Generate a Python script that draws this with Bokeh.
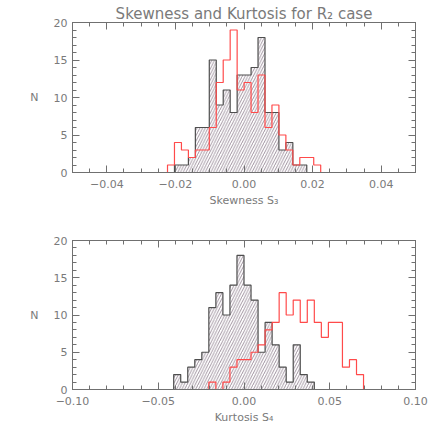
import numpy as np
from bokeh.plotting import figure
from bokeh.models import FixedTicker, LinearAxis, CustomJSTickFormatter, Range1d
from bokeh.layouts import column
from bokeh.embed import file_html
from bokeh.resources import INLINE

# ---------------- data ----------------
title_text = "Skewness and Kurtosis for R\u2082 case"
skew_label = "Skewness S\u2083"
kurt_label = "Kurtosis S\u2084"
y_label = "N"

# skewness histograms (left edge of first bin, bin width, counts)
skew_edge0 = -0.0223
skew_binw = 0.00203
skew_black = [0, 1, 1, 2, 6, 6, 15, 9, 11, 8, 13, 13, 14, 18, 8, 8, 3, 4, 1, 1, 0, 0]
skew_red = [1, 4, 3, 2, 3, 3, 6, 12, 15, 19, 11, 12, 8, 13, 6, 9, 5, 3, 1, 2, 2, 1]
skew_xrange = (-0.05, 0.05)
skew_xticks = [-0.04, -0.02, 0.0, 0.02, 0.04]
skew_xminor = [round(-0.05 + 0.005 * i, 4) for i in range(21)]

# kurtosis histograms
kurt_edge0 = -0.041
kurt_binw = 0.0041
kurt_black = [2, 1, 3, 4, 5, 11, 13, 10, 14, 18, 14, 12, 5, 9, 6, 3, 1, 6, 2, 1, 0, 0, 0, 0, 0, 0, 0]
kurt_red = [0, 0, 0, 0, 0, 1, 0, 1, 3, 4, 4, 5, 6, 8, 9, 13, 10, 12, 9, 12, 9, 7, 9, 9, 3, 4, 2]
kurt_xrange = (-0.10, 0.10)
kurt_xticks = [-0.10, -0.05, 0.0, 0.05, 0.10]
kurt_xminor = [round(-0.10 + 0.01 * i, 4) for i in range(21)]

y_range = (0, 20)
y_ticks = [0, 5, 10, 15, 20]
y_minor = list(range(0, 21))

# ---------------- style ----------------
AXIS_COL = "#707070"
TEXT_COL = "#7a7a7a"
BLACK_COL = "#4e4e4e"
HATCH_COL = "#8a7a8a"
RED_COL = "#ff4a4a"
FONT = "DejaVu Sans"

fmt = CustomJSTickFormatter(code="""
    if (Math.abs(tick) < 1e-12) { return "0.00"; }
    return (tick < 0 ? "\\u2212" : "") + Math.abs(tick).toFixed(2);
""")
blank_fmt = CustomJSTickFormatter(code='return "";')


def step_xy(edge0, w, counts, xmin=None, xmax=None):
    edges = edge0 + w * np.arange(len(counts) + 1)
    xs, ys = [], []
    if xmin is not None:
        xs += [xmin]
        ys += [0]
    xs += [edges[0]]
    ys += [0]
    for i, c in enumerate(counts):
        xs += [edges[i], edges[i + 1]]
        ys += [c, c]
    xs += [edges[-1]]
    ys += [0]
    if xmax is not None:
        xs += [xmax]
        ys += [0]
    return xs, ys


def style_axis(ax, labels=True):
    ax.axis_line_color = AXIS_COL
    ax.major_tick_line_color = AXIS_COL
    ax.minor_tick_line_color = AXIS_COL
    ax.major_tick_in = 7
    ax.major_tick_out = 0
    ax.minor_tick_in = 4
    ax.minor_tick_out = 0
    ax.major_label_text_font = FONT
    ax.major_label_text_color = TEXT_COL
    ax.major_label_text_font_size = "11px"
    if not labels:
        ax.formatter = blank_fmt
        ax.major_label_standoff = 0


def make_panel(height, border_top, border_bottom, xr, xt, xm, edge0, w, black, red, xlabel, title=None):
    p = figure(width=430, height=height, x_range=Range1d(*xr), y_range=Range1d(*y_range),
               output_backend="svg", toolbar_location=None, title=title,
               min_border_left=72, min_border_right=15,
               min_border_top=border_top, min_border_bottom=border_bottom)
    if title:
        p.title.align = "center"
        p.title.text_font = FONT
        p.title.text_font_size = "15px"
        p.title.text_font_style = "normal"
        p.title.text_color = TEXT_COL
        p.title.standoff = 0
        p.title.offset = 0
    p.xgrid.visible = False
    p.ygrid.visible = False
    p.outline_line_color = AXIS_COL
    p.background_fill_color = "white"
    p.border_fill_color = "white"

    xtick = FixedTicker(ticks=xt, minor_ticks=xm)
    ytick = FixedTicker(ticks=y_ticks, minor_ticks=y_minor)

    p.xaxis.ticker = xtick
    p.xaxis.formatter = fmt
    p.yaxis.ticker = ytick
    style_axis(p.xaxis[0])
    style_axis(p.yaxis[0])
    p.xaxis.major_label_standoff = 7
    p.yaxis.major_label_standoff = 5
    p.xaxis.axis_label = xlabel
    p.xaxis.axis_label_text_font = FONT
    p.xaxis.axis_label_text_font_size = "11px"
    p.xaxis.axis_label_text_font_style = "normal"
    p.xaxis.axis_label_text_color = TEXT_COL
    p.xaxis.axis_label_standoff = 3
    p.yaxis.axis_label = y_label
    p.yaxis.axis_label_orientation = "horizontal"
    p.yaxis.axis_label_text_font = FONT
    p.yaxis.axis_label_text_font_size = "11px"
    p.yaxis.axis_label_text_font_style = "normal"
    p.yaxis.axis_label_text_color = TEXT_COL
    p.yaxis.axis_label_standoff = 12

    top_ax = LinearAxis(ticker=xtick)
    style_axis(top_ax, labels=False)
    p.add_layout(top_ax, "above")
    right_ax = LinearAxis(ticker=ytick)
    style_axis(right_ax, labels=False)
    p.add_layout(right_ax, "right")

    bx, by = step_xy(edge0, w, black)
    p.patch(bx, by, fill_alpha=0, line_color=BLACK_COL, line_width=1.2,
            hatch_pattern="/", hatch_color=HATCH_COL, hatch_scale=5.5,
            hatch_weight=0.9, hatch_alpha=0.9)
    rx, ry = step_xy(edge0, w, red, xr[0], xr[1])
    p.line(rx, ry, line_color=RED_COL, line_width=1.2)
    return p


p1 = make_panel(220, 22, 48, skew_xrange, skew_xticks, skew_xminor,
                skew_edge0, skew_binw, skew_black, skew_red, skew_label, title=title_text)

p2 = make_panel(214, 20, 45, kurt_xrange, kurt_xticks, kurt_xminor,
                kurt_edge0, kurt_binw, kurt_black, kurt_red, kurt_label)

layout = column(p1, p2, spacing=0)
open("out.html", "w").write(file_html(layout, INLINE))
